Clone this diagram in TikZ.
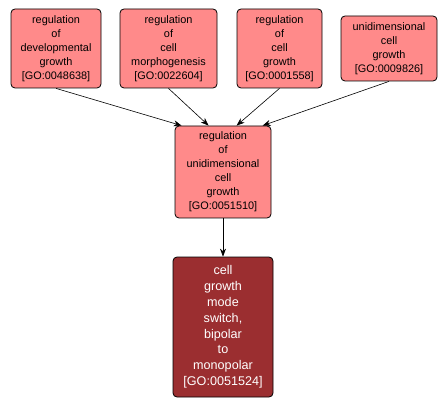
\documentclass[tikz,border=0pt]{standalone}
\usepackage{fontspec}
\setmainfont{Liberation Sans}
\usetikzlibrary{arrows.meta}
\definecolor{lightgo}{HTML}{FF8A8A}
\definecolor{darkgo}{HTML}{9B2E30}
\begin{document}
\begin{tikzpicture}[x=1pt,y=-1pt,
  gobox/.style={draw=black, line width=0.8pt, rounded corners=4pt, fill=lightgo, align=center,
    font=\fontsize{10.9}{14}\selectfont, inner sep=0pt, text=black},
  darkbox/.style={gobox, fill=darkgo, text=white, font=\fontsize{12.6}{15.8}\selectfont},
  edge/.style={draw=black, line width=0.6pt, -{Stealth[length=8pt,width=6pt]}}]
\useasboundingbox (0,0) rectangle (447,406);
\node[gobox, minimum width=90pt, minimum height=79pt] (a) at (56,48.5) {regulation\\of\\developmental\\growth\\{[GO:0048638]}};
\node[gobox, minimum width=97pt, minimum height=79pt] (b) at (168.5,48.5) {regulation\\of\\cell\\morphogenesis\\{[GO:0022604]}};
\node[gobox, minimum width=85pt, minimum height=79pt] (c) at (279.5,48.5) {regulation\\of\\cell\\growth\\{[GO:0001558]}};
\node[gobox, minimum width=96pt, minimum height=65pt] (d) at (389,48.5) {unidimensional\\cell\\growth\\{[GO:0009826]}};
\node[gobox, minimum width=96pt, minimum height=92pt] (e) at (223,172) {regulation\\of\\unidimensional\\cell\\growth\\{[GO:0051510]}};
\node[darkbox, minimum width=100pt, minimum height=140pt] (f) at (223,327) {cell\\growth\\mode\\switch,\\bipolar\\to\\monopolar\\{[GO:0051524]}};
\draw[edge] (a.south) -- ([xshift=7pt]e.north west);
\draw[edge] (b.south) -- ([xshift=34pt]e.north west);
\draw[edge] (c.south) -- ([xshift=62pt]e.north west);
\draw[edge] (d.south) -- ([xshift=88pt]e.north west);
\draw[edge] (e.south) -- (f.north);
\end{tikzpicture}
\end{document}
